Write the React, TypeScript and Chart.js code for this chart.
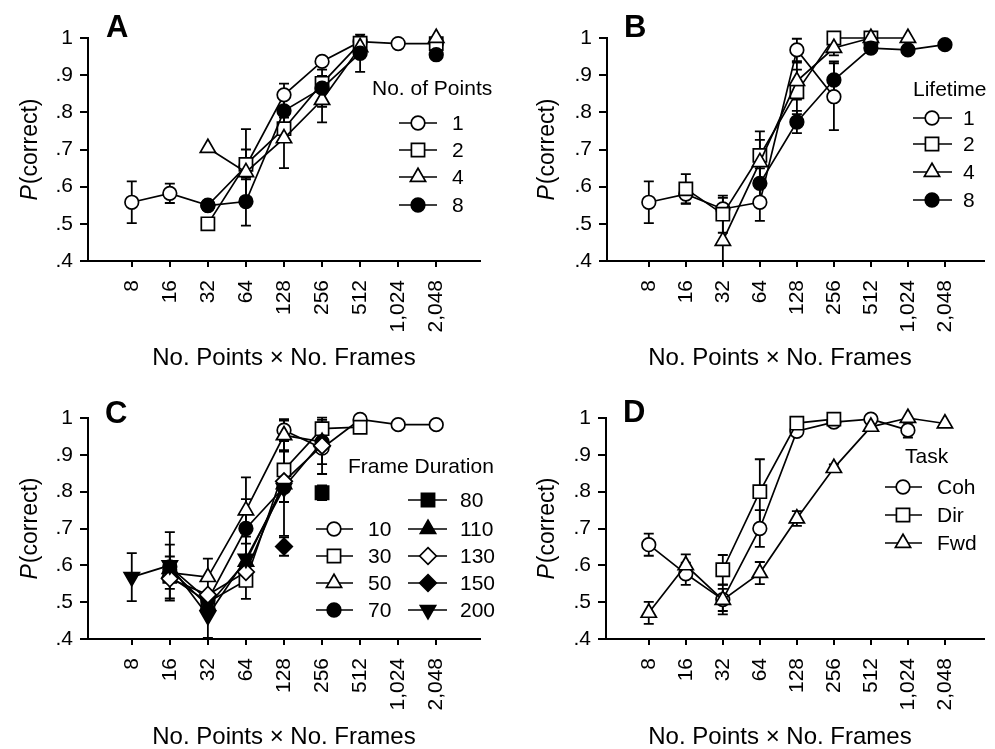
import React, { useEffect, useRef } from 'react';
import { Chart, registerables } from 'chart.js';

Chart.register(...registerables);

// ---------- shared axis data ----------
const X_LABELS = ['8', '16', '32', '64', '128', '256', '512', '1,024', '2,048'];
const Y_TICKS = [0.4, 0.5, 0.6, 0.7, 0.8, 0.9, 1];
const Y_TICK_LABELS = ['.4', '.5', '.6', '.7', '.8', '.9', '1'];
const X_TITLE = 'No. Points \u00d7 No. Frames';

// ---------- Panel A : No. of Points ----------
const A_TITLE = 'No. of Points';
const A_NAMES = ['1', '2', '4', '8'];
const A_P1 = [0.558, 0.582, 0.55, 0.655, 0.847, 0.937, 0.99, 0.985, 0.985];
const A_P1_ERR = [0.056, 0.026, null, 0.1, 0.03, 0.01, 0.01, null, null];
const A_P2 = [null, null, 0.5, 0.66, 0.756, 0.878, 0.986, null, 0.985];
const A_P2_ERR = [null, null, null, 0.04, 0.03, 0.02, null, null, null];
const A_P4 = [null, null, 0.704, 0.639, 0.73, 0.833, 0.975, null, 1.0];
const A_P4_ERR = [null, null, null, null, 0.08, 0.06, null, null, null];
const A_P8 = [null, null, 0.549, 0.56, 0.804, 0.865, 0.959, null, 0.955];
const A_P8_ERR = [null, null, null, 0.065, 0.04, 0.05, 0.05, null, null];

// ---------- Panel B : Lifetime ----------
const B_TITLE = 'Lifetime';
const B_NAMES = ['1', '2', '4', '8'];
const B_L1 = [0.558, 0.58, 0.54, 0.558, 0.968, 0.842, null, null, null];
const B_L1_ERR = [0.056, 0.025, 0.03, 0.05, 0.03, 0.09, null, null, null];
const B_L2 = [null, 0.594, 0.526, 0.684, 0.855, 1.0, 1.0, null, null];
const B_L2_ERR = [null, 0.04, 0.05, 0.065, 0.06, null, null, null, null];
const B_L4 = [null, null, 0.454, 0.666, 0.884, 0.973, 1.0, 1.0, null];
const B_L4_ERR = [null, null, 0.06, 0.06, 0.05, 0.02, null, null, null];
const B_L8 = [null, null, null, 0.609, 0.774, 0.887, 0.973, 0.968, 0.982];
const B_L8_ERR = [null, null, null, 0.04, 0.03, 0.05, 0.01, 0.01, null];

// ---------- Panel C : Frame Duration ----------
const C_TITLE = 'Frame Duration';
const C_NAMES = ['10', '30', '50', '70', '80', '110', '130', '150', '200'];
const C_F10 = [null, null, null, null, 0.967, 0.918, 0.996, 0.982, 0.982];
const C_F10_ERR = [null, null, null, null, 0.03, 0.07, null, null, null];
const C_F30 = [null, 0.57, 0.5, 0.559, 0.859, 0.971, 0.975, null, null];
const C_F30_ERR = [null, null, null, 0.05, 0.05, 0.03, null, null, null];
const C_F50 = [null, 0.58, 0.568, 0.749, 0.953, 0.935, null, null, null];
const C_F50_ERR = [null, null, 0.05, 0.09, 0.04, null, null, null, null];
const C_F70 = [null, 0.596, 0.506, 0.7, 0.812, 0.935, null, null, null];
const C_F70_ERR = [null, 0.06, null, 0.08, 0.04, 0.06, null, null, null];
const C_F80 = [null, null, null, null, null, 0.797, null, null, null];
const C_F80_ERR = [null, null, null, null, null, 0.02, null, null, null];
const C_F110 = [null, 0.59, 0.49, 0.61, 0.82, null, null, null, null];
const C_F110_ERR = [null, null, null, null, null, null, null, null, null];
const C_F130 = [null, 0.564, 0.52, 0.582, 0.828, 0.925, null, null, null];
const C_F130_ERR = [null, 0.06, null, null, null, null, null, null, null];
const C_F150 = [null, null, null, null, 0.651, null, null, null, null];
const C_F150_ERR = [null, null, null, null, 0.025, null, null, null, null];
const C_F200 = [0.568, 0.6, 0.463, 0.618, 0.81, null, null, null, null];
const C_F200_ERR = [0.065, 0.09, 0.06, 0.06, 0.13, null, null, null, null];

// ---------- Panel D : Task ----------
const D_TITLE = 'Task';
const D_NAMES = ['Coh', 'Dir', 'Fwd'];
const D_COH = [0.656, 0.577, 0.507, 0.7, 0.964, 0.989, 0.997, 0.967, null];
const D_COH_ERR = [0.03, 0.03, 0.04, 0.05, null, null, null, 0.02, null];
const D_DIR = [null, null, 0.588, 0.8, 0.986, 0.997, null, null, null];
const D_DIR_ERR = [null, null, 0.04, 0.088, null, null, null, null, null];
const D_FWD = [0.471, 0.6, 0.506, 0.579, 0.727, 0.864, 0.976, 1.0, 0.985];
const D_FWD_ERR = [0.03, 0.03, 0.03, 0.03, 0.02, 0.01, 0.01, null, null];

// ---------- styles ----------
const FONT = '"Liberation Sans", Arial, Helvetica, sans-serif';
type Mk = { pointStyle: string; radius: number; fill: string; rotation: number };
const M: Record<string, Mk> = {
  circO: { pointStyle: 'circle', radius: 6.8, fill: '#fff', rotation: 0 },
  circF: { pointStyle: 'circle', radius: 6.8, fill: '#000', rotation: 0 },
  sqO: { pointStyle: 'rect', radius: 9.3, fill: '#fff', rotation: 0 },
  sqF: { pointStyle: 'rect', radius: 9.3, fill: '#000', rotation: 0 },
  triO: { pointStyle: 'triangle', radius: 8.8, fill: '#fff', rotation: 0 },
  triF: { pointStyle: 'triangle', radius: 8.8, fill: '#000', rotation: 0 },
  diaO: { pointStyle: 'rectRot', radius: 8.3, fill: '#fff', rotation: 0 },
  diaF: { pointStyle: 'rectRot', radius: 8.3, fill: '#000', rotation: 0 },
  triDF: { pointStyle: 'triangle', radius: 8.8, fill: '#000', rotation: 180 },
};

function drawMarker(ctx: CanvasRenderingContext2D, mk: Mk, x: number, y: number) {
  const r = mk.radius;
  ctx.save();
  ctx.fillStyle = mk.fill;
  ctx.strokeStyle = '#000';
  ctx.lineWidth = 1.7;
  ctx.beginPath();
  if (mk.pointStyle === 'circle') {
    ctx.arc(x, y, r, 0, Math.PI * 2);
  } else if (mk.pointStyle === 'rect') {
    const s = r * Math.SQRT1_2;
    ctx.rect(x - s, y - s, 2 * s, 2 * s);
  } else if (mk.pointStyle === 'rectRot') {
    ctx.moveTo(x, y - r);
    ctx.lineTo(x + r, y);
    ctx.lineTo(x, y + r);
    ctx.lineTo(x - r, y);
    ctx.closePath();
  } else {
    const a0 = (mk.rotation * Math.PI) / 180;
    for (let k = 0; k < 3; k++) {
      const a = a0 + (k * 2 * Math.PI) / 3;
      const px = x + Math.sin(a) * r;
      const py = y - Math.cos(a) * r;
      if (k === 0) ctx.moveTo(px, py);
      else ctx.lineTo(px, py);
    }
    ctx.closePath();
  }
  ctx.fill();
  ctx.stroke();
  ctx.restore();
}

type Series = { name: string; values: (number | null)[]; errors: (number | null)[]; mk: Mk };
type LegendItem = { name: string; mk: Mk; y: number; x1: number; x2: number; sx: number; lx: number };
type PanelCfg = {
  left: number; top: number; width: number; height: number;
  padTop: number; padRight: number; yWidth: number; xHeight: number;
  xMin: number; xMax: number;
  letter: string; letterX: number; letterY: number;
  yTitleX: number; yTitleY: number; xTitleX: number; xTitleY: number;
  legendTitle: string; legendTitleX: number; legendTitleY: number;
  series: Series[]; legend: LegendItem[];
};

function rows(names: string[], mks: Mk[], ys: number[], x1: number, x2: number, sx: number, lx: number): LegendItem[] {
  return names.map((n, i) => ({ name: n, mk: mks[i], y: ys[i], x1, x2, sx, lx }));
}

const errorBarPlugin = {
  id: 'errorBars',
  beforeDatasetsDraw(chart: any) {
    const ctx = chart.ctx;
    const xs = chart.scales.x;
    const ys = chart.scales.y;
    chart.data.datasets.forEach((ds: any) => {
      if (!ds.errors) return;
      ds.data.forEach((pt: any, i: number) => {
        const e = ds.errors[i];
        if (pt.y == null || e == null) return;
        const px = xs.getPixelForValue(pt.x);
        const y1 = ys.getPixelForValue(pt.y + e);
        const y2 = Math.min(ys.getPixelForValue(pt.y - e), ys.bottom);
        ctx.save();
        ctx.strokeStyle = '#000';
        ctx.lineWidth = 1.8;
        ctx.beginPath();
        ctx.moveTo(px, y1);
        ctx.lineTo(px, y2);
        ctx.moveTo(px - 5, y1);
        ctx.lineTo(px + 5, y1);
        if (y2 < ys.bottom - 1) {
          ctx.moveTo(px - 5, y2);
          ctx.lineTo(px + 5, y2);
        }
        ctx.stroke();
        ctx.restore();
      });
    });
  },
};

function makeAnnot(cfg: PanelCfg) {
  return {
    id: 'annot',
    afterDraw(chart: any) {
      const ctx: CanvasRenderingContext2D = chart.ctx;
      ctx.save();
      ctx.fillStyle = '#000';
      // panel letter
      ctx.font = `bold 31px ${FONT}`;
      ctx.textAlign = 'left';
      ctx.textBaseline = 'alphabetic';
      ctx.fillText(cfg.letter, cfg.letterX, cfg.letterY);
      // x title
      ctx.font = `24px ${FONT}`;
      ctx.textAlign = 'center';
      ctx.textBaseline = 'middle';
      ctx.fillText(X_TITLE, cfg.xTitleX, cfg.xTitleY);
      // y title with italic P
      ctx.save();
      ctx.translate(cfg.yTitleX, cfg.yTitleY);
      ctx.rotate(-Math.PI / 2);
      ctx.textAlign = 'left';
      ctx.font = `italic 23px ${FONT}`;
      const wP = ctx.measureText('P').width;
      ctx.font = `23px ${FONT}`;
      const wR = ctx.measureText('(correct)').width;
      const start = -(wP + wR) / 2;
      ctx.font = `italic 23px ${FONT}`;
      ctx.fillText('P', start, 0);
      ctx.font = `23px ${FONT}`;
      ctx.fillText('(correct)', start + wP + 1, 0);
      ctx.restore();
      // legend
      ctx.font = `21px ${FONT}`;
      ctx.textAlign = 'left';
      ctx.textBaseline = 'middle';
      ctx.fillText(cfg.legendTitle, cfg.legendTitleX, cfg.legendTitleY);
      cfg.legend.forEach((it) => {
        ctx.strokeStyle = '#000';
        ctx.lineWidth = 1.7;
        ctx.beginPath();
        ctx.moveTo(it.x1, it.y);
        ctx.lineTo(it.x2, it.y);
        ctx.stroke();
        drawMarker(ctx, it.mk, it.sx, it.y);
        ctx.fillStyle = '#000';
        ctx.fillText(it.name, it.lx, it.y + 1);
      });
      ctx.restore();
    },
  };
}

function Panel({ cfg }: { cfg: PanelCfg }) {
  const ref = useRef<HTMLCanvasElement | null>(null);
  useEffect(() => {
    if (!ref.current) return;
    const datasets = cfg.series
      .map((s) => ({
        label: s.name,
        data: s.values.map((v, i) => ({ x: i, y: v })),
        errors: s.errors,
        borderColor: '#000',
        borderWidth: 1.7,
        pointStyle: s.mk.pointStyle,
        pointRadius: s.mk.radius,
        pointRotation: s.mk.rotation,
        pointBackgroundColor: s.mk.fill,
        pointBorderColor: '#000',
        pointBorderWidth: 1.7,
        fill: false,
        tension: 0,
        spanGaps: false,
        clip: false,
      }))
      .reverse();
    const chart = new Chart(ref.current, {
      type: 'line',
      data: { datasets } as any,
      options: {
        responsive: false,
        maintainAspectRatio: false,
        animation: false,
        events: [],
        layout: { padding: { top: cfg.padTop, right: cfg.padRight, left: 0, bottom: 0 } },
        plugins: { legend: { display: false }, tooltip: { enabled: false }, title: { display: false } },
        scales: {
          x: {
            type: 'linear',
            min: cfg.xMin,
            max: cfg.xMax,
            border: { display: true, width: 2, color: '#000' },
            grid: { drawOnChartArea: false, drawTicks: true, tickLength: 6, lineWidth: 2, color: '#000' },
            afterBuildTicks: (s: any) => {
              s.ticks = X_LABELS.map((_, i) => ({ value: i }));
            },
            afterFit: (s: any) => {
              s.height = cfg.xHeight;
            },
            ticks: {
              autoSkip: false,
              minRotation: 90,
              maxRotation: 90,
              padding: 13,
              color: '#000',
              font: { family: FONT, size: 21 },
              callback: (_v: any, i: number) => X_LABELS[i],
            },
          },
          y: {
            type: 'linear',
            min: 0.4,
            max: 1,
            border: { display: true, width: 2, color: '#000' },
            grid: { drawOnChartArea: false, drawTicks: true, tickLength: 8, lineWidth: 2, color: '#000' },
            afterBuildTicks: (s: any) => {
              s.ticks = Y_TICKS.map((v) => ({ value: v }));
            },
            afterFit: (s: any) => {
              s.width = cfg.yWidth;
            },
            ticks: {
              padding: 7,
              color: '#000',
              font: { family: FONT, size: 21 },
              callback: (_v: any, i: number) => Y_TICK_LABELS[i],
            },
          },
        },
      } as any,
      plugins: [errorBarPlugin, makeAnnot(cfg)],
    });
    return () => chart.destroy();
  }, [cfg]);
  return (
    <canvas
      ref={ref}
      width={cfg.width}
      height={cfg.height}
      style={{ position: 'absolute', left: cfg.left, top: cfg.top, width: cfg.width, height: cfg.height, display: 'block' }}
    />
  );
}

const PANEL_A: PanelCfg = {
  left: 0, top: 0, width: 497, height: 374,
  padTop: 38, padRight: 17, yWidth: 88, xHeight: 113,
  xMin: -1.15, xMax: 9.15,
  letter: 'A', letterX: 106, letterY: 37,
  yTitleX: 31, yTitleY: 150, xTitleX: 284, xTitleY: 358,
  legendTitle: A_TITLE, legendTitleX: 372, legendTitleY: 89,
  series: [
    { name: A_NAMES[0], values: A_P1, errors: A_P1_ERR, mk: M.circO },
    { name: A_NAMES[1], values: A_P2, errors: A_P2_ERR, mk: M.sqO },
    { name: A_NAMES[2], values: A_P4, errors: A_P4_ERR, mk: M.triO },
    { name: A_NAMES[3], values: A_P8, errors: A_P8_ERR, mk: M.circF },
  ],
  legend: rows(A_NAMES, [M.circO, M.sqO, M.triO, M.circF], [123, 150, 177, 205], 399, 437, 418, 452),
};

const PANEL_B: PanelCfg = {
  left: 497, top: 0, width: 498, height: 374,
  padTop: 38, padRight: 0, yWidth: 110, xHeight: 113,
  xMin: -1.13, xMax: 9.055,
  letter: 'B', letterX: 127, letterY: 37,
  yTitleX: 51, yTitleY: 150, xTitleX: 283, xTitleY: 358,
  legendTitle: B_TITLE, legendTitleX: 416, legendTitleY: 90,
  series: [
    { name: B_NAMES[0], values: B_L1, errors: B_L1_ERR, mk: M.circO },
    { name: B_NAMES[1], values: B_L2, errors: B_L2_ERR, mk: M.sqO },
    { name: B_NAMES[2], values: B_L4, errors: B_L4_ERR, mk: M.triO },
    { name: B_NAMES[3], values: B_L8, errors: B_L8_ERR, mk: M.circF },
  ],
  legend: rows(B_NAMES, [M.circO, M.sqO, M.triO, M.circF], [118, 144, 172, 200], 416, 455, 435, 466),
};

const C_MKS = [M.circO, M.sqO, M.triO, M.circF, M.sqF, M.triF, M.diaO, M.diaF, M.triDF];
const PANEL_C: PanelCfg = {
  left: 0, top: 374, width: 497, height: 375,
  padTop: 44, padRight: 17, yWidth: 88, xHeight: 110,
  xMin: -1.15, xMax: 9.15,
  letter: 'C', letterX: 105, letterY: 49,
  yTitleX: 31, yTitleY: 155, xTitleX: 284, xTitleY: 363,
  legendTitle: C_TITLE, legendTitleX: 348, legendTitleY: 93,
  series: [
    { name: C_NAMES[0], values: C_F10, errors: C_F10_ERR, mk: C_MKS[0] },
    { name: C_NAMES[1], values: C_F30, errors: C_F30_ERR, mk: C_MKS[1] },
    { name: C_NAMES[2], values: C_F50, errors: C_F50_ERR, mk: C_MKS[2] },
    { name: C_NAMES[3], values: C_F70, errors: C_F70_ERR, mk: C_MKS[3] },
    { name: C_NAMES[4], values: C_F80, errors: C_F80_ERR, mk: C_MKS[4] },
    { name: C_NAMES[5], values: C_F110, errors: C_F110_ERR, mk: C_MKS[5] },
    { name: C_NAMES[6], values: C_F130, errors: C_F130_ERR, mk: C_MKS[6] },
    { name: C_NAMES[7], values: C_F150, errors: C_F150_ERR, mk: C_MKS[7] },
    { name: C_NAMES[8], values: C_F200, errors: C_F200_ERR, mk: C_MKS[8] },
  ],
  legend: [
    ...rows(C_NAMES.slice(0, 4), C_MKS.slice(0, 4), [155, 182, 209, 236], 316, 353, 334, 368),
    ...rows(C_NAMES.slice(4), C_MKS.slice(4), [126, 155, 182, 209, 236], 408, 447, 428, 460),
  ],
};

const PANEL_D: PanelCfg = {
  left: 497, top: 374, width: 498, height: 375,
  padTop: 44, padRight: 0, yWidth: 109, xHeight: 110,
  xMin: -1.155, xMax: 9.055,
  letter: 'D', letterX: 126, letterY: 48,
  yTitleX: 51, yTitleY: 155, xTitleX: 283, xTitleY: 363,
  legendTitle: D_TITLE, legendTitleX: 408, legendTitleY: 83,
  series: [
    { name: D_NAMES[0], values: D_COH, errors: D_COH_ERR, mk: M.circO },
    { name: D_NAMES[1], values: D_DIR, errors: D_DIR_ERR, mk: M.sqO },
    { name: D_NAMES[2], values: D_FWD, errors: D_FWD_ERR, mk: M.triO },
  ],
  legend: rows(D_NAMES, [M.circO, M.sqO, M.triO], [113, 141, 169], 388, 425, 406, 440),
};

export default function App() {
  return (
    <div style={{ position: 'absolute', left: 0, top: 0, width: 995, height: 749, background: '#fff', overflow: 'hidden' }}>
      <Panel cfg={PANEL_A} />
      <Panel cfg={PANEL_B} />
      <Panel cfg={PANEL_C} />
      <Panel cfg={PANEL_D} />
    </div>
  );
}
